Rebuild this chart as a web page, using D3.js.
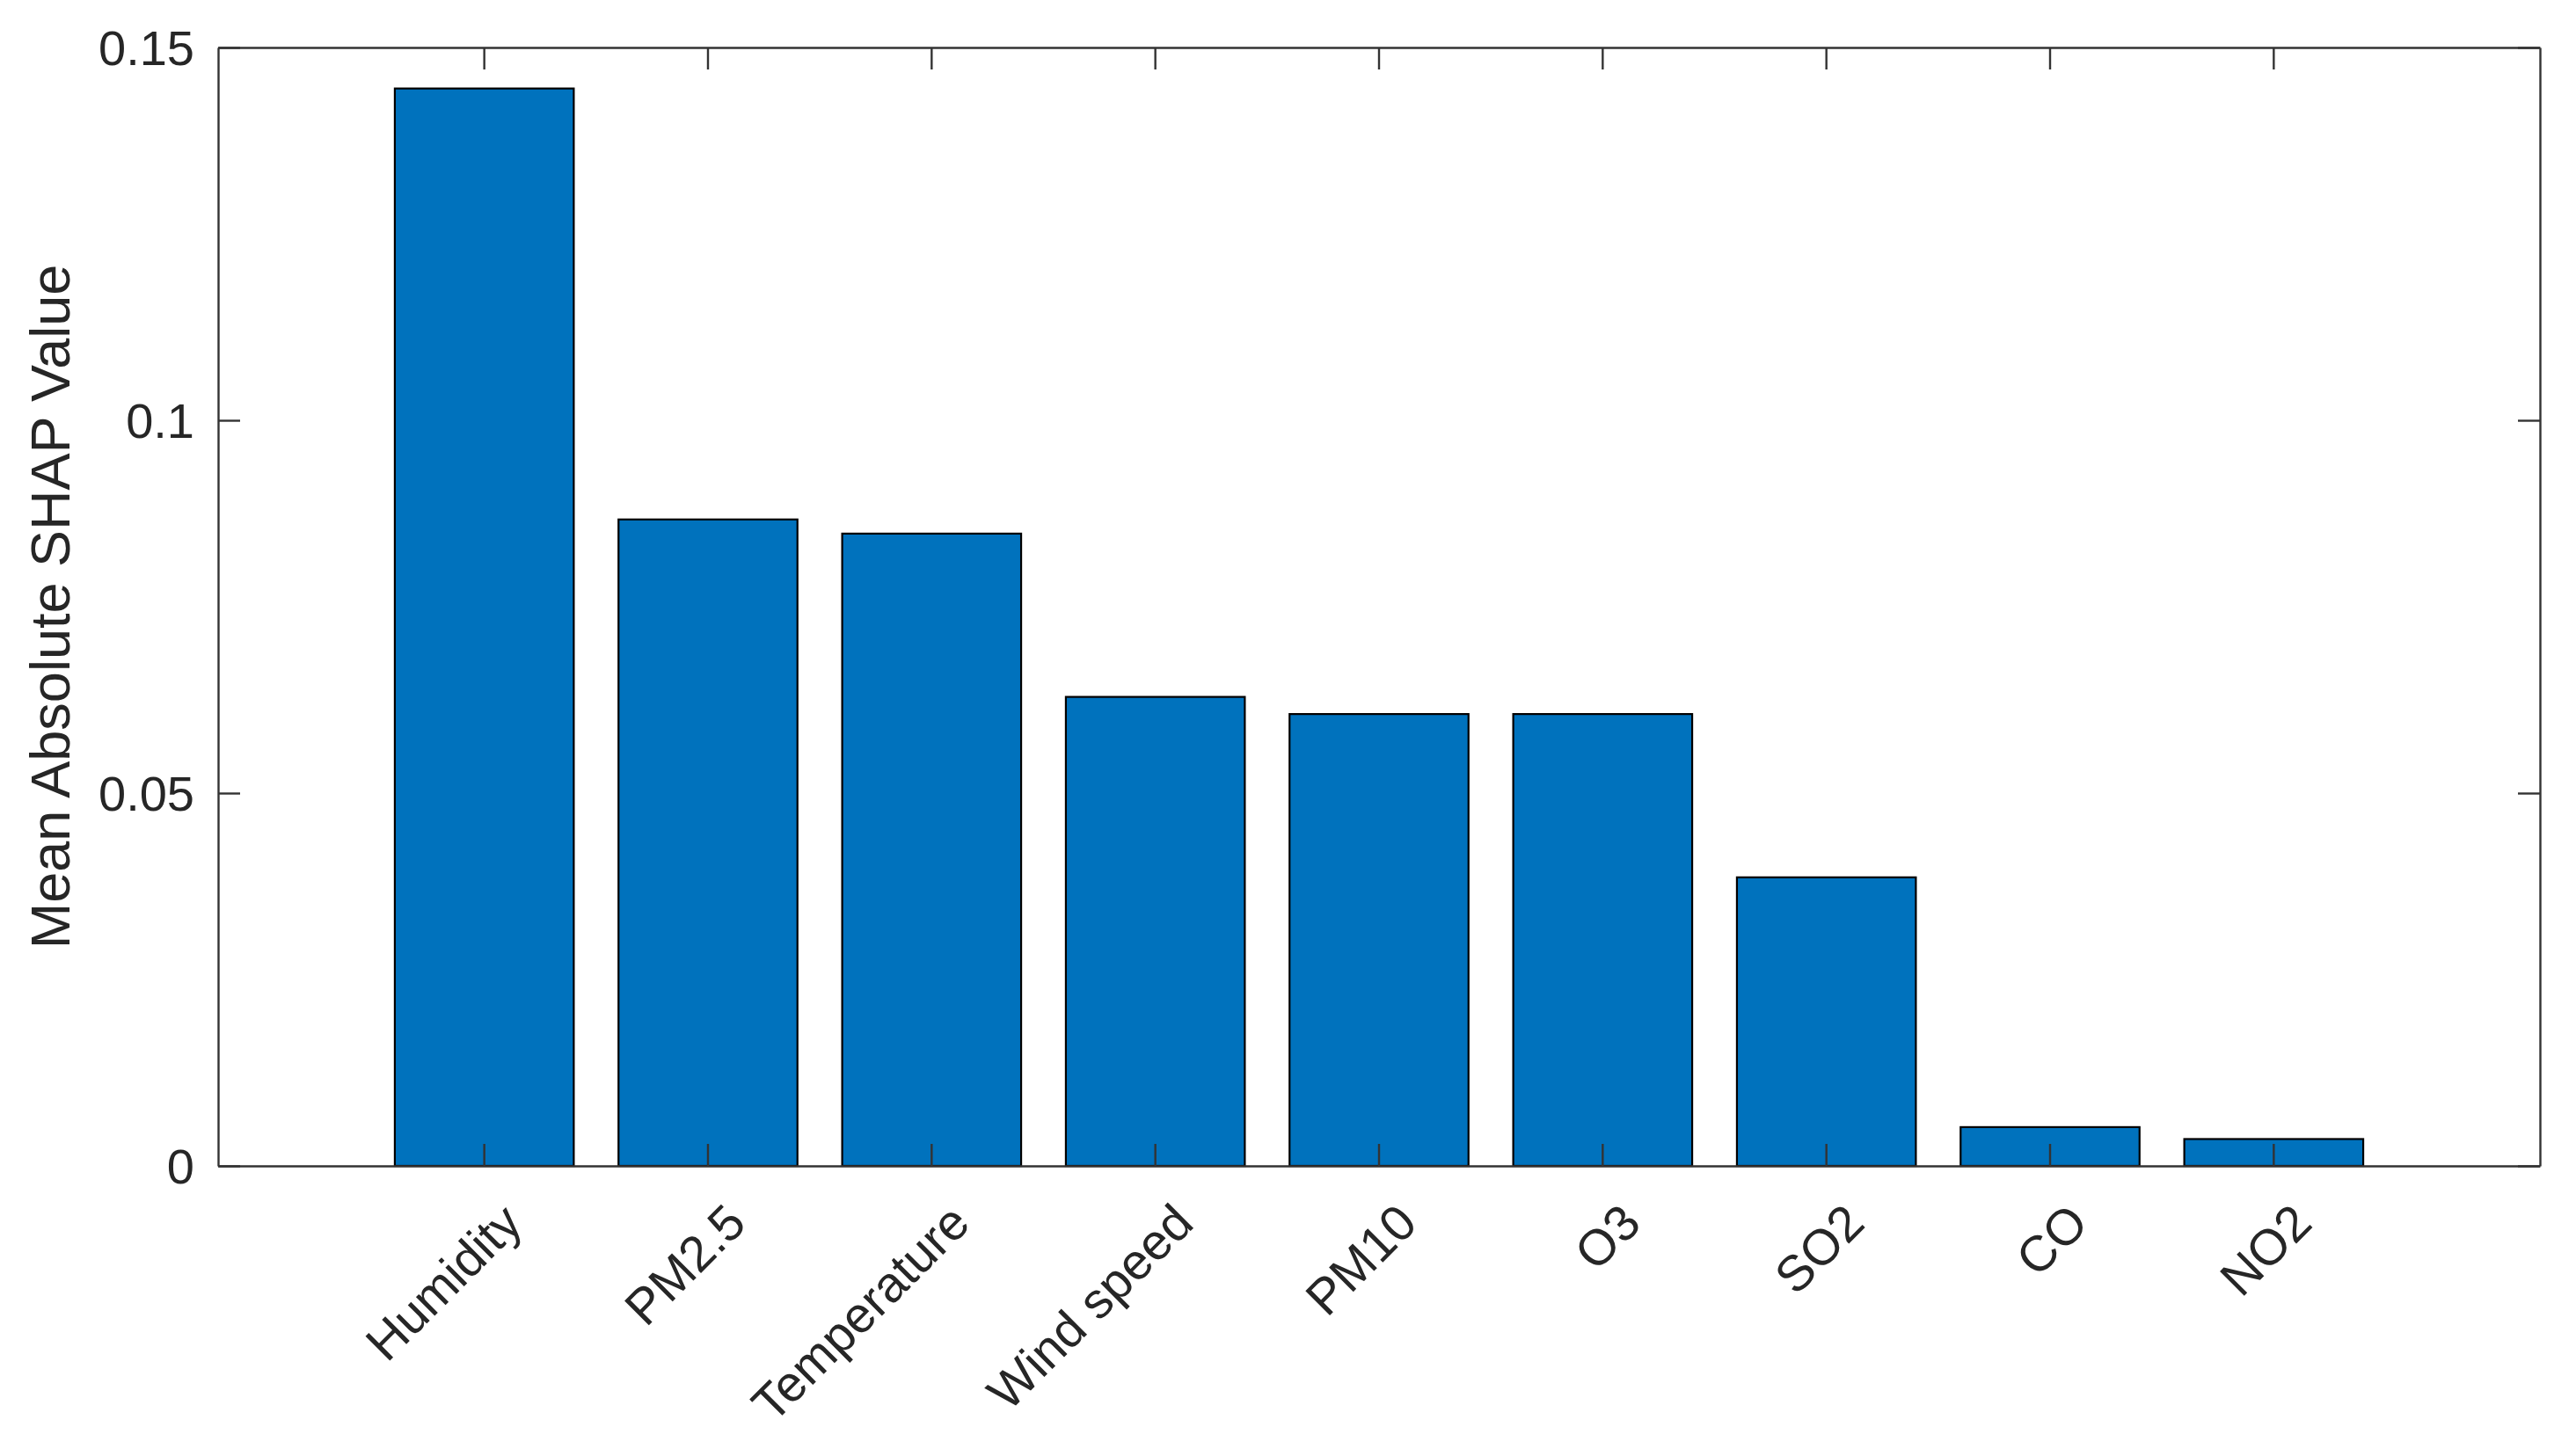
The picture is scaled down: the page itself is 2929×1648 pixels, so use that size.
<!DOCTYPE html>
<html>
<head>
<style>
  body { margin: 0; background: #fff; }
  text { font-family: "Liberation Sans", Arial, sans-serif; }
</style>
</head>
<body>

<script src="https://d3js.org/d3.v7.min.js"></script>
<script>

const features = ['Humidity', 'PM2.5', 'Temperature', 'Wind speed', 'PM10', 'O3', 'SO2', 'CO', 'NO2'];
const shapValues = [0.1445, 0.0867, 0.0848, 0.0629, 0.0606, 0.0606, 0.0387, 0.0052, 0.0036];
const yTicks = [0, 0.05, 0.1, 0.15];
const yTickLabels = ['0', '0.05', '0.1', '0.15'];
const yLabel = 'Mean Absolute SHAP Value';

const width = 2929;
const height = 1648;
const margin = {top: 54, right: 41, bottom: 322, left: 248};
const innerW = width - margin.left - margin.right;
const innerH = height - margin.top - margin.bottom;

const barColor = '#0072BD';
const axisColor = '#333333';
const textColor = '#262626';
const tickLen = 25;
const fontSize = 56;

const svg = d3.select('body')
              .append('svg')
              .attr('width', width)
              .attr('height', height);

const g = svg.append('g')
             .attr('transform', `translate(${margin.left},${margin.top})`);

const x = d3.scaleBand()
            .domain(features)
            .range([0, innerW])
            .paddingInner(0.2)
            .paddingOuter(0.79);

const y = d3.scaleLinear()
            .domain([0, 0.15])
            .range([innerH, 0]);

// bars
g.selectAll('rect.bar')
  .data(features)
  .enter()
  .append('rect')
    .attr('class', 'bar')
    .attr('x', d => x(d))
    .attr('y', (d, i) => y(shapValues[i]))
    .attr('width', x.bandwidth())
    .attr('height', (d, i) => innerH - y(shapValues[i]))
    .attr('fill', barColor)
    .attr('stroke', '#000')
    .attr('stroke-width', 2.2);

const styleAxis = sel => {
  sel.selectAll('.domain').attr('stroke', axisColor).attr('stroke-width', 2.4);
  sel.selectAll('.tick line').attr('stroke', axisColor).attr('stroke-width', 2.4);
  sel.selectAll('text')
     .attr('fill', textColor)
     .attr('font-size', fontSize)
     .attr('font-family', '"Liberation Sans", Arial, sans-serif');
};

// left axis with labels
const yAxis = g.append('g')
  .call(d3.axisLeft(y)
          .tickValues(yTicks)
          .tickFormat((d, i) => yTickLabels[i])
          .tickSizeInner(-tickLen)
          .tickSizeOuter(0)
          .tickPadding(27));
styleAxis(yAxis);
yAxis.selectAll('text').attr('dy', '0.35em');

// right axis, ticks only
const yAxisR = g.append('g')
  .attr('transform', `translate(${innerW},0)`)
  .call(d3.axisRight(y)
          .tickValues(yTicks)
          .tickFormat('')
          .tickSizeInner(-tickLen)
          .tickSizeOuter(0));
styleAxis(yAxisR);

// top axis, ticks only
const xAxisT = g.append('g')
  .call(d3.axisTop(x)
          .tickFormat('')
          .tickSizeInner(-tickLen)
          .tickSizeOuter(0));
styleAxis(xAxisT);

// bottom axis with rotated labels
const xAxis = g.append('g')
  .attr('transform', `translate(0,${innerH})`)
  .call(d3.axisBottom(x)
          .tickSizeInner(-tickLen)
          .tickSizeOuter(0));
styleAxis(xAxis);
xAxis.selectAll('text')
  .attr('x', 0)
  .attr('y', 0)
  .attr('dy', 0)
  .attr('font-size', 57)
  .attr('text-anchor', 'end')
  .attr('transform', 'translate(46,68) rotate(-45)');

// y label
g.append('text')
  .attr('transform', `translate(${79 - margin.left},${innerH / 2}) rotate(-90)`)
  .attr('text-anchor', 'middle')
  .attr('fill', textColor)
  .attr('font-size', 63)
  .text(yLabel);

</script>
</body>
</html>
